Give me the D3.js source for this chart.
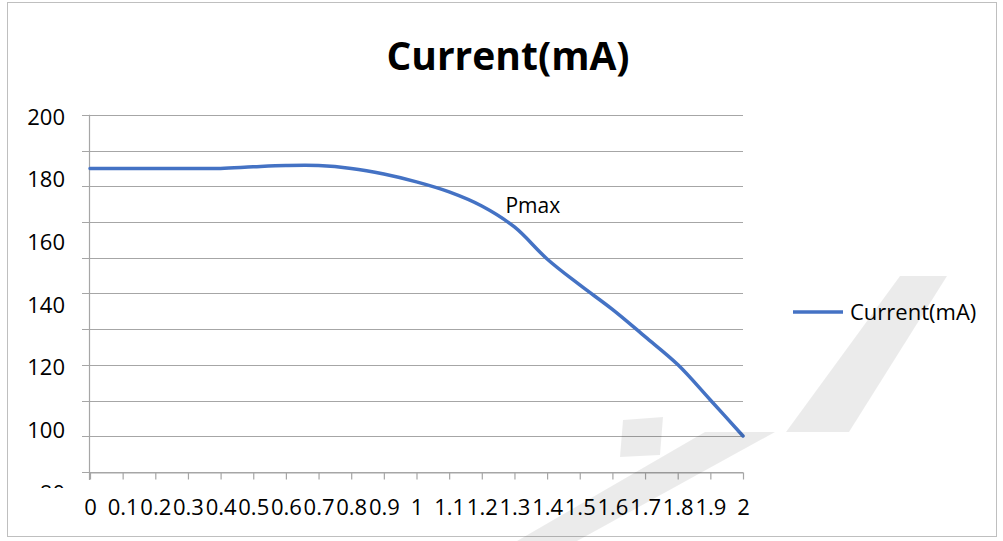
<!DOCTYPE html>
<html>
<head>
<meta charset="utf-8">
<script src="https://cdn.jsdelivr.net/npm/d3@7/dist/d3.min.js"></script>
<style>
  html, body { margin: 0; padding: 0; background: #fff; }
  svg { display: block; }
  text { font-family: "Open Sans", Lato, sans-serif; fill: #000; }
</style>
</head>
<body>
<svg id="chart" width="1003" height="541"></svg>
<script>
// Voltage steps (x categories) and measured current in mA
const voltage = [0, 0.1, 0.2, 0.3, 0.4, 0.5, 0.6, 0.7, 0.8, 0.9, 1, 1.1, 1.2, 1.3, 1.4, 1.5, 1.6, 1.7, 1.8, 1.9, 2];
const currentMA = [183.5, 183.5, 183.5, 183.5, 183.5, 184.0, 184.4, 184.4, 183.5, 181.7, 179.2, 176.0, 171.5, 164.8, 154.6, 146.3, 138.5, 129.8, 120.9, 109.6, 98.1];
const xTickLabels = ["0", "0.1", "0.2", "0.3", "0.4", "0.5", "0.6", "0.7", "0.8", "0.9", "1", "1.1", "1.2", "1.3", "1.4", "1.5", "1.6", "1.7", "1.8", "1.9", "2"];
const yTickLabels = [200, 180, 160, 140, 120, 100, 80];
const seriesName = "Current(mA)";
const chartTitle = "Current(mA)";
const annotation = { label: "Pmax", x: 1.3 };

// value range covered by the plot area
const yFloor = 86.6, yCeil = 200.6;

const svg = d3.select("#chart");
const blue = "#4472C4", grid = "#a6a6a6";
const labelSize = 22;

// chart frame
svg.append("rect").attr("x", 7.5).attr("y", 2.5).attr("width", 989).attr("height", 534)
  .attr("fill", "#fff").attr("stroke", "#bfbfbf").attr("stroke-width", 1);

const x = d3.scaleLinear().domain([0, 2]).range([90, 743]);
const y = d3.scaleLinear().domain([80, 200]).range([492.7, 116.7]);

// horizontal gridlines splitting the plot area into ten bands
const gridVals = d3.range(11).map(i => yFloor + i * (yCeil - yFloor) / 10);
svg.append("g").selectAll("line").data(gridVals).join("line")
  .attr("x1", x(0) - 8).attr("x2", x(2))
  .attr("y1", d => Math.round(y(d)) + 0.5).attr("y2", d => Math.round(y(d)) + 0.5)
  .attr("stroke", grid).attr("stroke-width", 1.2);

// vertical axis line
svg.append("line")
  .attr("x1", x(0) - 0.5).attr("x2", x(0) - 0.5)
  .attr("y1", y(yCeil)).attr("y2", y(yFloor) + 8)
  .attr("stroke", grid).attr("stroke-width", 1.2);

// x axis with a tick at every category
const xAxis = d3.axisBottom(x).tickValues(voltage).tickSize(7).tickSizeOuter(0)
  .tickFormat((d, i) => xTickLabels[i]);
const gx = svg.append("g").attr("transform", `translate(0,${Math.round(y(yFloor)) + 0.5})`).call(xAxis);
gx.select(".domain").attr("stroke", grid).attr("stroke-width", 1.2);
gx.selectAll(".tick line").attr("stroke", grid).attr("stroke-width", 1.2);
gx.selectAll(".tick text").attr("font-size", labelSize).attr("font-family", "Open Sans").attr("fill", "#000")
  .attr("y", 0).attr("dy", 0).attr("transform", "translate(0,42.5)");

// y labels, the lowest one partly hidden under the category labels
svg.append("clipPath").attr("id", "ylab-clip")
  .append("rect").attr("x", 0).attr("y", 0).attr("width", 90).attr("height", 488);
svg.append("g").attr("clip-path", "url(#ylab-clip)")
  .selectAll("text").data(yTickLabels).join("text")
  .attr("x", 65).attr("y", d => y(d)).attr("dy", "0.36em")
  .attr("text-anchor", "end").attr("font-size", labelSize)
  .text(d => d);

// smoothed current line
const line = d3.line()
  .x((d, i) => x(voltage[i]))
  .y(d => y(d))
  .curve(d3.curveCatmullRom.alpha(0.5));
svg.append("path").datum(currentMA)
  .attr("d", line).attr("fill", "none")
  .attr("stroke", blue).attr("stroke-width", 3.5)
  .attr("stroke-linejoin", "round").attr("stroke-linecap", "round");

// maximum power point label
const ai = voltage.indexOf(annotation.x);
svg.append("text")
  .attr("x", x(annotation.x) - 9).attr("y", y(currentMA[ai]) - 14)
  .attr("font-size", 21).text(annotation.label);

// title
svg.append("text").attr("x", 508).attr("y", 70).attr("text-anchor", "middle")
  .attr("font-size", 39).attr("font-weight", "bold").text(chartTitle);

// legend
const lg = svg.append("g").attr("transform", "translate(793,312)");
lg.append("line").attr("x1", 0).attr("x2", 50).attr("y1", 0).attr("y2", 0)
  .attr("stroke", blue).attr("stroke-width", 3.5);
lg.append("text").attr("x", 57).attr("y", 0).attr("dy", "0.36em")
  .attr("font-size", labelSize).text(seriesName);

// faint stamp strokes in the lower right corner
const stamp = [
  [[623, 420], [663, 417], [660, 455], [620, 457]],
  [[517, 541], [577, 541], [775, 432], [705, 432]],
  [[786, 432], [849, 432], [947, 276], [900, 276]]
];
svg.append("g").attr("fill", "#000").attr("fill-opacity", 0.08)
  .selectAll("path").data(stamp).join("path")
  .attr("d", d => "M" + d.join("L") + "Z");
</script>
</body>
</html>
